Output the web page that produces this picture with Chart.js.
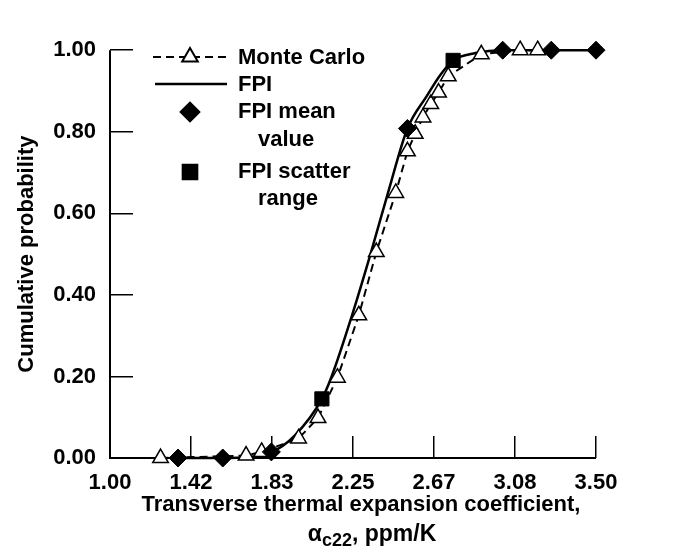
<!DOCTYPE html>
<html lang="en">
<head>
<meta charset="UTF-8">
<title>Cumulative probability - transverse thermal expansion</title>
<script src="https://cdn.jsdelivr.net/npm/chart.js"></script>
<style>
  html, body { margin: 0; padding: 0; background: #fff; }
  #wrap { width: 673px; height: 553px; }
</style>
</head>
<body>
<div id="wrap"><canvas id="cdfChart"></canvas></div>
<script>
// Monte Carlo simulation (open triangles, dashed line)
const mcX = [1.26, 1.70, 1.78, 1.97, 2.07, 2.17, 2.28, 2.37, 2.47, 2.53, 2.57, 2.61, 2.65, 2.69, 2.74, 2.91, 3.11, 3.20];
const mcY = [0.000, 0.006, 0.015, 0.048, 0.098, 0.197, 0.350, 0.505, 0.650, 0.752, 0.795, 0.835, 0.868, 0.896, 0.936, 0.990, 1.000, 1.000];

// FPI cumulative distribution (solid curve)
const fpiX = [1.35, 1.58, 1.83, 1.95, 2.09, 2.14, 2.245, 2.34, 2.43, 2.53, 2.63, 2.70, 2.765, 2.88, 3.02, 3.27, 3.50];
const fpiY = [0.000, 0.000, 0.015, 0.055, 0.145, 0.200, 0.350, 0.500, 0.650, 0.808, 0.888, 0.940, 0.975, 0.993, 1.000, 1.000, 1.000];

// FPI mean values (diamonds)
const meanX = [1.35, 1.58, 1.83, 2.53, 3.02, 3.27, 3.50];
const meanY = [0.000, 0.000, 0.015, 0.808, 1.000, 1.000, 1.000];

// FPI scatter range (squares)
const rangeX = [2.09, 2.765];
const rangeY = [0.145, 0.975];

// axis ranges and titles
const xMin = 1.0, xMax = 3.5, xDivisions = 6;
const yMin = 0, yMax = 1, yStep = 0.2;
const xTitle = 'Transverse thermal expansion coefficient,';
const yTitle = 'Cumulative probability';

const FONT = "'Liberation Sans', Arial, sans-serif";
const pts = (xs, ys) => xs.map((x, i) => ({ x: x, y: ys[i] }));

// left and bottom axis lines, drawn under the data
const axesPlugin = {
  id: 'axes',
  beforeDatasetsDraw(chart) {
    const ctx = chart.ctx;
    const area = chart.chartArea;
    ctx.save();
    ctx.strokeStyle = '#000';
    ctx.lineWidth = 2;
    ctx.beginPath();
    ctx.moveTo(area.left, area.top);
    ctx.lineTo(area.left, area.bottom);
    ctx.lineTo(area.right, area.bottom);
    ctx.stroke();
    ctx.restore();
  }
};

// axis titles (with the alpha_c22 subscript) and the in-plot legend
const extrasPlugin = {
  id: 'extras',
  afterDraw(chart) {
    const ctx = chart.ctx;
    const h = Chart.helpers;
    const area = chart.chartArea;
    ctx.save();
    ctx.fillStyle = '#000';
    ctx.strokeStyle = '#000';
    ctx.textBaseline = 'middle';
    ctx.font = 'bold 22px ' + FONT;

    // y title, rotated
    ctx.save();
    ctx.translate(27, (area.top + area.bottom) / 2);
    ctx.rotate(-Math.PI / 2);
    ctx.textAlign = 'center';
    ctx.fillText(yTitle, 0, 0);
    ctx.restore();

    // x title, first line
    const cx = (area.left + area.right) / 2;
    ctx.textAlign = 'center';
    ctx.fillText(xTitle, cx + 8, 505);

    // x title, second line: alpha with subscript c22
    ctx.textAlign = 'left';
    const big = 'bold 23px ' + FONT;
    const small = 'bold 18px ' + FONT;
    ctx.font = big;
    const wA = ctx.measureText('\u03b1').width;
    const wT = ctx.measureText(', ppm/K').width;
    ctx.font = small;
    const wS = ctx.measureText('c22').width;
    let x = cx + 19 - (wA + wS + wT) / 2;
    ctx.font = big;
    ctx.fillText('\u03b1', x, 535);
    x += wA;
    ctx.font = small;
    ctx.fillText('c22', x, 541);
    x += wS;
    ctx.font = big;
    ctx.fillText(', ppm/K', x, 535);

    // legend
    ctx.font = 'bold 22px ' + FONT;
    ctx.lineWidth = 2;
    ctx.setLineDash([8, 5]);
    ctx.beginPath(); ctx.moveTo(153, 57); ctx.lineTo(227, 57); ctx.stroke();
    ctx.setLineDash([]);
    ctx.fillStyle = '#fff';
    h.drawPoint(ctx, { pointStyle: 'triangle', radius: 9, rotation: 0, borderWidth: 1.5 }, 190, 57);
    ctx.fillStyle = '#000';
    ctx.fillText('Monte Carlo', 238, 58);

    ctx.lineWidth = 2.5;
    ctx.beginPath(); ctx.moveTo(155, 84); ctx.lineTo(227, 84); ctx.stroke();
    ctx.fillText('FPI', 238, 85);

    h.drawPoint(ctx, { pointStyle: 'rectRot', radius: 9, rotation: 0, borderWidth: 1 }, 190, 112);
    ctx.fillText('FPI mean', 238, 112);
    ctx.fillText('value', 258, 140);

    h.drawPoint(ctx, { pointStyle: 'rect', radius: 10, rotation: 0, borderWidth: 1 }, 190, 172);
    ctx.fillText('FPI scatter', 238, 172);
    ctx.fillText('range', 258, 199);
    ctx.restore();
  }
};

new Chart(document.getElementById('cdfChart'), {
  type: 'scatter',
  data: {
    datasets: [
      {
        label: 'FPI scatter range',
        data: pts(rangeX, rangeY),
        pointStyle: 'rect',
        pointRadius: 10,
        backgroundColor: '#000',
        borderColor: '#000',
        showLine: false,
        clip: false,
        order: 0
      },
      {
        label: 'FPI mean value',
        data: pts(meanX, meanY),
        pointStyle: 'rectRot',
        pointRadius: 9,
        backgroundColor: '#000',
        borderColor: '#000',
        showLine: false,
        clip: false,
        order: 1
      },
      {
        label: 'Monte Carlo',
        data: pts(mcX, mcY),
        pointStyle: 'triangle',
        pointRadius: 9,
        pointBorderWidth: 1.5,
        backgroundColor: '#fff',
        borderColor: '#000',
        borderWidth: 2,
        borderDash: [8, 5],
        showLine: true,
        tension: 0,
        clip: false,
        order: 2
      },
      {
        label: 'FPI',
        data: pts(fpiX, fpiY),
        pointRadius: 0,
        borderColor: '#000',
        borderWidth: 2.5,
        showLine: true,
        cubicInterpolationMode: 'monotone',
        clip: false,
        order: 3
      }
    ]
  },
  options: {
    responsive: true,
    maintainAspectRatio: false,
    animation: false,
    events: [],
    layout: { padding: { left: 0, right: 77, top: 21, bottom: 0 } },
    plugins: {
      legend: { display: false },
      tooltip: { enabled: false }
    },
    scales: {
      x: {
        type: 'linear',
        min: xMin,
        max: xMax,
        afterFit(scale) { scale.height = 95; },
        ticks: {
          stepSize: (xMax - xMin) / xDivisions,
          padding: 34,
          color: '#000',
          font: { family: FONT, size: 22, weight: 'bold' },
          callback: v => Number(v).toFixed(2),
          maxRotation: 0
        },
        grid: {
          drawOnChartArea: false,
          drawTicks: true,
          tickLength: -22,
          color: '#000',
          lineWidth: 1.5
        },
        border: { display: false },
        title: { display: false }
      },
      y: {
        min: yMin,
        max: yMax,
        afterFit(scale) { scale.width = 110; },
        ticks: {
          stepSize: yStep,
          padding: 37,
          color: '#000',
          font: { family: FONT, size: 22, weight: 'bold' },
          callback: v => Number(v).toFixed(2)
        },
        grid: {
          drawOnChartArea: false,
          drawTicks: true,
          tickLength: -23,
          color: '#000',
          lineWidth: 1.5
        },
        border: { display: false },
        title: { display: false }
      }
    }
  },
  plugins: [axesPlugin, extrasPlugin]
});
</script>
</body>
</html>
